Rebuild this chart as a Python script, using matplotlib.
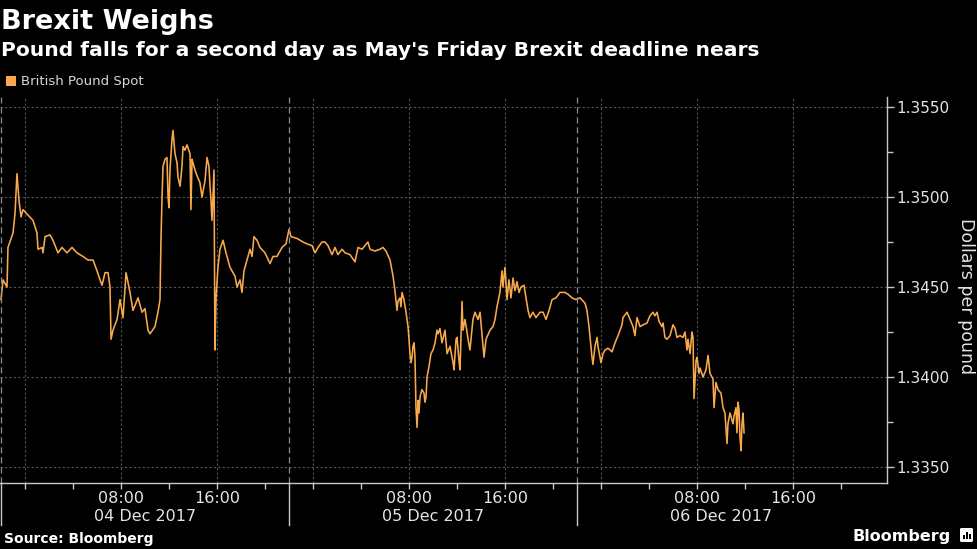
import numpy as np
import pandas as pd
import matplotlib
matplotlib.use('Agg')
import matplotlib.pyplot as plt
import matplotlib.dates as mdates
import matplotlib.transforms as mtransforms
from matplotlib.patches import Patch, FancyBboxPatch, Rectangle
from matplotlib.ticker import MultipleLocator, FuncFormatter

# hours after 04 Dec 2017 00:00 (GMT)
hours = [
    -2.0, -1.83, -1.5, -1.42, -1.0, -0.83, -0.67, -0.5, -0.33, -0.17,
    0.25, 0.67, 1.0, 1.08, 1.42, 1.5, 1.67, 2.08, 2.33, 2.75,
    3.08, 3.5, 3.92, 4.33, 4.83, 5.25, 5.67, 6.0, 6.25, 6.42,
    6.67, 6.92, 7.08, 7.17, 7.33, 7.67, 7.92, 8.17, 8.42, 8.75,
    9.0, 9.42, 9.75, 10.0, 10.25, 10.42, 10.83, 11.08, 11.25, 11.33,
    11.42, 11.5, 11.67, 11.83, 11.92, 12.0, 12.08, 12.25, 12.33, 12.5,
    12.67, 12.75, 12.92, 13.08, 13.17, 13.33, 13.5, 13.75, 13.83, 13.92,
    14.0, 14.17, 14.33, 14.58, 14.75, 15.0, 15.17, 15.33, 15.42, 15.5,
    15.58, 15.67, 15.75, 15.83, 15.92, 16.08, 16.25, 16.5, 16.75, 17.08,
    17.5, 17.67, 17.92, 18.08, 18.25, 18.5, 18.75, 18.92, 19.08, 19.33,
    19.58, 20.0, 20.42, 20.67, 21.0, 21.42, 21.75, 22.0, 22.17, 22.67,
    23.17, 23.5, 23.92, 24.17, 24.42, 24.75, 25.0, 25.25, 25.58, 25.83,
    26.08, 26.42, 26.67, 27.08, 27.5, 27.75, 28.08, 28.58, 28.75, 29.17,
    29.58, 29.83, 30.08, 30.42, 30.67, 30.83, 31.0, 31.08, 31.25, 31.33,
    31.42, 31.58, 31.75, 31.92, 32.0, 32.08, 32.17, 32.25, 32.33, 32.42,
    32.5, 32.58, 32.67, 32.75, 32.83, 32.92, 33.08, 33.25, 33.33, 33.42,
    33.5, 33.67, 33.83, 34.0, 34.17, 34.33, 34.42, 34.58, 34.75, 35.0,
    35.17, 35.42, 35.67, 35.75, 35.92, 36.0, 36.17, 36.25, 36.42, 36.5,
    36.67, 36.92, 37.08, 37.33, 37.5, 37.75, 37.92, 38.08, 38.25, 38.42,
    38.75, 39.0, 39.17, 39.33, 39.58, 39.75, 39.83, 40.0, 40.17, 40.33,
    40.5, 40.67, 40.83, 41.0, 41.17, 41.33, 41.58, 41.75, 41.92, 42.08,
    42.33, 42.58, 42.92, 43.17, 43.42, 43.67, 43.92, 44.25, 44.58, 45.0,
    45.25, 45.58, 45.92, 46.25, 46.67, 46.83, 47.0, 47.25, 47.33, 47.5,
    47.67, 47.75, 48.0, 48.17, 48.33, 48.58, 48.92, 49.17, 49.42, 49.75,
    49.83, 50.17, 50.42, 50.67, 50.83, 51.0, 51.25, 51.5, 51.83, 52.08,
    52.33, 52.5, 52.67, 52.83, 53.08, 53.17, 53.33, 53.5, 53.75, 54.0,
    54.17, 54.33, 54.58, 54.83, 55.0, 55.17, 55.25, 55.42, 55.58, 55.67,
    55.75, 55.92, 56.0, 56.17, 56.25, 56.5, 56.75, 56.92, 57.08, 57.33,
    57.42, 57.58, 57.75, 58.0, 58.17, 58.33, 58.5, 58.58, 58.75, 59.0,
    59.08, 59.25, 59.33, 59.42, 59.5, 59.58, 59.67, 59.75, 59.83, 59.92,
]

# British Pound Spot, dollars per pound
price = [
    1.3443, 1.3454, 1.3450, 1.3472, 1.3480, 1.3491, 1.3513, 1.3498, 1.3489, 1.3493,
    1.3490, 1.3487, 1.3480, 1.3471, 1.3472, 1.3469, 1.3478, 1.3479, 1.3476, 1.3469,
    1.3472, 1.3469, 1.3472, 1.3469, 1.3467, 1.3465, 1.3465, 1.3459, 1.3454, 1.3451,
    1.3458, 1.3458, 1.3450, 1.3421, 1.3426, 1.3432, 1.3443, 1.3433, 1.3458, 1.3447,
    1.3437, 1.3444, 1.3436, 1.3438, 1.3426, 1.3424, 1.3428, 1.3436, 1.3443, 1.3476,
    1.3500, 1.3517, 1.3521, 1.3522, 1.3500, 1.3494, 1.3515, 1.3532, 1.3537, 1.3524,
    1.3519, 1.3511, 1.3506, 1.3517, 1.3528, 1.3526, 1.3529, 1.3524, 1.3493, 1.3521,
    1.3519, 1.3515, 1.3512, 1.3508, 1.3500, 1.3509, 1.3522, 1.3517, 1.3506, 1.3498,
    1.3487, 1.3502, 1.3515, 1.3415, 1.3444, 1.3461, 1.3471, 1.3476, 1.3469, 1.3461,
    1.3456, 1.3450, 1.3454, 1.3447, 1.3459, 1.3465, 1.3471, 1.3467, 1.3478, 1.3476,
    1.3472, 1.3469, 1.3463, 1.3467, 1.3467, 1.3472, 1.3474, 1.3482, 1.3478, 1.3477,
    1.3475, 1.3474, 1.3473, 1.3469, 1.3472, 1.3475, 1.3475, 1.3473, 1.3468, 1.3472,
    1.3468, 1.3471, 1.3469, 1.3468, 1.3464, 1.3472, 1.3471, 1.3475, 1.3471, 1.3470,
    1.3471, 1.3472, 1.3470, 1.3465, 1.3456, 1.3448, 1.3437, 1.3442, 1.3444, 1.3439,
    1.3447, 1.3443, 1.3436, 1.3428, 1.3421, 1.3413, 1.3408, 1.3411, 1.3417, 1.3419,
    1.3411, 1.3383, 1.3372, 1.3387, 1.3380, 1.3389, 1.3393, 1.3391, 1.3386, 1.3389,
    1.3400, 1.3406, 1.3413, 1.3415, 1.3419, 1.3426, 1.3424, 1.3427, 1.3419, 1.3426,
    1.3413, 1.3417, 1.3408, 1.3404, 1.3421, 1.3422, 1.3409, 1.3404, 1.3442, 1.3426,
    1.3432, 1.3421, 1.3415, 1.3432, 1.3436, 1.3432, 1.3436, 1.3424, 1.3411, 1.3421,
    1.3426, 1.3428, 1.3432, 1.3439, 1.3447, 1.3459, 1.3450, 1.3461, 1.3443, 1.3454,
    1.3444, 1.3455, 1.3448, 1.3453, 1.3447, 1.3450, 1.3451, 1.3444, 1.3437, 1.3433,
    1.3436, 1.3433, 1.3436, 1.3436, 1.3432, 1.3437, 1.3443, 1.3444, 1.3447, 1.3447,
    1.3446, 1.3444, 1.3443, 1.3444, 1.3441, 1.3437, 1.3428, 1.3411, 1.3407, 1.3417,
    1.3422, 1.3417, 1.3408, 1.3413, 1.3415, 1.3416, 1.3414, 1.3419, 1.3423, 1.3429,
    1.3433, 1.3436, 1.3432, 1.3428, 1.3423, 1.3433, 1.3428, 1.3429, 1.3430, 1.3434,
    1.3436, 1.3434, 1.3436, 1.3431, 1.3428, 1.3430, 1.3422, 1.3421, 1.3423, 1.3429,
    1.3427, 1.3422, 1.3423, 1.3422, 1.3425, 1.3415, 1.3421, 1.3413, 1.3425, 1.3422,
    1.3388, 1.3409, 1.3411, 1.3402, 1.3405, 1.3400, 1.3404, 1.3412, 1.3402, 1.3399,
    1.3383, 1.3397, 1.3393, 1.3391, 1.3383, 1.3380, 1.3363, 1.3374, 1.3380, 1.3374,
    1.3378, 1.3383, 1.3369, 1.3386, 1.3382, 1.3367, 1.3359, 1.3374, 1.3380, 1.3369,
]

# trading sessions start at 22:00 GMT the evening before
session_starts = ['2017-12-03 22:00', '2017-12-04 22:00', '2017-12-05 22:00']
day_labels = ['04 Dec 2017', '05 Dec 2017', '06 Dec 2017']
y_ticks = [1.3350, 1.3400, 1.3450, 1.3500, 1.3550]

orange = '#F9A94B'
axis_grey = '#c8c8c8'
text_grey = '#e4e4e4'

times = pd.Timestamp('2017-12-04') + pd.to_timedelta(hours, unit='h')

W, H = 977, 549
fig = plt.figure(figsize=(W / 100, H / 100), dpi=100, facecolor='black')
ax = fig.add_axes([0, 66 / H, 887 / W, 386 / H], facecolor='black')

ax.plot(times, price, color=orange, lw=1.15)

ax.set_xlim(pd.Timestamp('2017-12-03 21:55'), pd.Timestamp('2017-12-06 23:50'))
ax.set_ylim(1.33411, 1.35556)

# y axis on the right
ax.yaxis.tick_right()
ax.set_yticks(y_ticks)
ax.yaxis.set_minor_locator(MultipleLocator(0.0025))
ax.yaxis.set_major_formatter(FuncFormatter(lambda v, p: '%.4f' % v))
ax.tick_params(axis='y', which='major', length=5, width=1, color=axis_grey,
               labelcolor=text_grey, labelsize=11, pad=2)
ax.tick_params(axis='y', which='minor', length=4, width=1, color=axis_grey)

# x axis: ticks every 4 hours, labels at 08:00 and 16:00
ax.xaxis.set_major_locator(mdates.HourLocator(byhour=[0, 8, 16]))
ax.xaxis.set_minor_locator(mdates.HourLocator(byhour=range(0, 24, 4)))


def hour_label(v, pos):
    d = mdates.num2date(v)
    return '' if d.hour == 0 else d.strftime('%H:%M')


ax.xaxis.set_major_formatter(FuncFormatter(hour_label))
ax.tick_params(axis='x', which='both', length=4, width=1, color=axis_grey,
               labelcolor=text_grey, labelsize=11.5, pad=2)

for side in ['top', 'left']:
    ax.spines[side].set_visible(False)
for side in ['bottom', 'right']:
    ax.spines[side].set_color(axis_grey)
    ax.spines[side].set_linewidth(1)

ax.grid(True, which='major', color='#555555', linestyle=(0, (2, 2)), linewidth=0.8)

# session separators and day labels
trans = mtransforms.blended_transform_factory(ax.transData, ax.transAxes)
for s, lab in zip(session_starts, day_labels):
    t = mdates.date2num(pd.Timestamp(s).to_pydatetime())
    ax.axvline(t, color='#8c8c8c', linestyle=(0, (5, 3)), linewidth=0.9)
    ax.plot([t, t], [0, -0.109], transform=trans, color=axis_grey, lw=1, clip_on=False)
    mid = mdates.date2num((pd.Timestamp(s) + pd.Timedelta(hours=12)).to_pydatetime())
    ax.text(mid, -0.0855, lab, transform=trans, ha='center', va='center',
            color=text_grey, fontsize=11.5)

fig.text(966 / W, 1 - 296 / H, 'Dollars per pound', rotation=270, ha='center',
         va='center', color=text_grey, fontsize=12.5)

# legend
ax.legend(handles=[Patch(facecolor=orange, label='British Pound Spot')],
          loc='center left', bbox_to_anchor=(6 / W, 1 - 82 / H),
          bbox_transform=fig.transFigure, frameon=False, borderpad=0,
          borderaxespad=0, handlelength=0.75, handleheight=0.75,
          handletextpad=0.35, fontsize=9.5, labelcolor='#d8d8d8')

# titles
fig.text(1 / W, 1 - 29 / H, 'Brexit Weighs', color='white', fontsize=19.5,
         fontweight='bold', va='baseline')
fig.text(1 / W, 1 - 56 / H,
         "Pound falls for a second day as May's Friday Brexit deadline nears",
         color='white', fontsize=14.6, fontweight='bold', va='baseline')
fig.text(4 / W, 1 - 543 / H, 'Source: Bloomberg', color='white', fontsize=10,
         fontweight='bold', va='baseline')
fig.text(853 / W, 1 - 541 / H, 'Bloomberg', color='white', fontsize=11.5,
         fontweight='bold', va='baseline')

# small logo mark next to the wordmark
fig.patches.append(FancyBboxPatch((960 / W, 1 - 542 / H), 13 / W, 14 / H,
                                  boxstyle='round,pad=0,rounding_size=0.002',
                                  transform=fig.transFigure, fc='white', ec='none'))
for bx, bh in [(963, 4), (966, 7), (969, 5)]:
    fig.patches.append(Rectangle((bx / W, 1 - 539 / H), 2 / W, bh / H,
                                 transform=fig.transFigure, fc='black', ec='none'))

fig.savefig('out.png', dpi=100, facecolor='black')
